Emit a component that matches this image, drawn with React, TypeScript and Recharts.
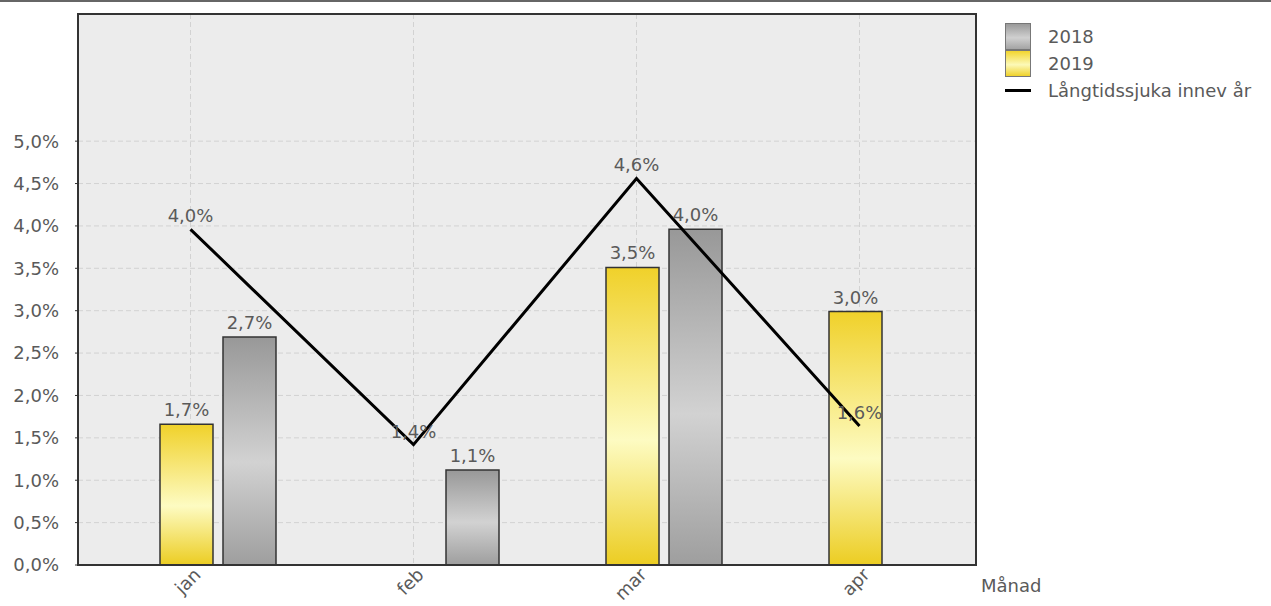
import React from 'react';
import { ComposedChart, Bar, Line, XAxis, YAxis, CartesianGrid, LabelList, ReferenceArea } from 'recharts';

const months = ['jan', 'feb', 'mar', 'apr'];
const values2019 = [1.66, null, 3.51, 2.99];
const values2018 = [2.69, 1.12, 3.96, null];
const longTermSick = [3.96, 1.42, 4.56, 1.64];
const yTicks = [0, 0.5, 1, 1.5, 2, 2.5, 3, 3.5, 4, 4.5, 5];

const data = months.map((m, i) => ({
  month: m,
  y2019: values2019[i],
  y2018: values2018[i],
  sick: longTermSick[i],
}));

const FONT = '"DejaVu Sans", sans-serif';
const TEXT = '#5a5a5a';
const FS = 18;

const pct = (v: any) => (v === null || v === undefined ? '' : Number(v).toFixed(1).replace('.', ',') + '%');

const MonthTick = ({ x, y, payload }: any) => (
  <g transform={`translate(${x},${y})`}>
    <text x={6} y={10} transform="rotate(-45)" textAnchor="end" fill={TEXT} fontSize={FS} fontFamily={FONT}>
      {payload.value}
    </text>
  </g>
);

const LegendBox = () => (
  <div style={{ position: 'absolute', left: 1005, top: 21, fontFamily: FONT, fontSize: FS, color: TEXT }}>
    <div style={{ display: 'flex', alignItems: 'center', height: 27 }}>
      <span style={{ width: 26, height: 27, boxSizing: 'border-box', border: '1px solid #777', background: 'linear-gradient(#9a9a9a, #d0d0d0 55%, #a4a4a4)', marginRight: 17 }} />
      2018
    </div>
    <div style={{ display: 'flex', alignItems: 'center', height: 27 }}>
      <span style={{ width: 26, height: 27, boxSizing: 'border-box', border: '1px solid #777', background: 'linear-gradient(#f2d52e, #fcf9b8 55%, #efd12a)', marginRight: 17 }} />
      2019
    </div>
    <div style={{ display: 'flex', alignItems: 'center', height: 27 }}>
      <span style={{ width: 26, height: 3, background: '#000', marginRight: 17 }} />
      Långtidssjuka innev år
    </div>
  </div>
);

export default function App() {
  return (
    <div style={{ position: 'fixed', left: 0, top: 0, width: 1271, height: 606, background: '#fff', borderTop: '2px solid #666', boxSizing: 'border-box' }}>
      <ComposedChart
        width={1271}
        height={604}
        data={data}
        margin={{ top: 12, right: 295, bottom: 0, left: 0 }}
        barGap={10}
      >
        <defs>
          <linearGradient id="gradYellow" x1="0" y1="0" x2="0" y2="1">
            <stop offset="0%" stopColor="#f0d12a" />
            <stop offset="58%" stopColor="#fdfbc2" />
            <stop offset="100%" stopColor="#eccd22" />
          </linearGradient>
          <linearGradient id="gradGray" x1="0" y1="0" x2="0" y2="1">
            <stop offset="0%" stopColor="#989898" />
            <stop offset="55%" stopColor="#d2d2d2" />
            <stop offset="100%" stopColor="#9e9e9e" />
          </linearGradient>
        </defs>
        <CartesianGrid fill="#ececec" stroke="#d2d2d2" strokeDasharray="5 3" />
        <XAxis
          dataKey="month"
          padding={{ left: 1, right: 5 }}
          axisLine={{ stroke: '#333', strokeWidth: 2 }}
          tickLine={false}
          tick={<MonthTick />}
          height={41}
          label={{ value: 'Månad', position: 'right', offset: 5, fill: TEXT, fontSize: FS, fontFamily: FONT }}
        />
        <XAxis xAxisId="frame" dataKey="month" hide />
        <YAxis
          domain={[0, 6.5]}
          ticks={yTicks}
          width={78}
          tickFormatter={pct}
          tick={{ fill: TEXT, fontSize: FS, fontFamily: FONT }}
          tickSize={3}
          tickMargin={16}
          tickLine={{ stroke: '#333' }}
          axisLine={{ stroke: '#333', strokeWidth: 2 }}
        />
        <ReferenceArea xAxisId="frame" y1={0} y2={6.5} fill="none" stroke="#333" strokeWidth={2} fillOpacity={0} />
        <Bar dataKey="pad" barSize={45} fill="none" legendType="none" isAnimationActive={false} />
        <Bar dataKey="y2019" name="2019" barSize={53} fill="url(#gradYellow)" stroke="#333" strokeWidth={1.5} isAnimationActive={false}>
          <LabelList dataKey="y2019" position="top" offset={8} formatter={pct} fill={TEXT} fontSize={FS} fontFamily={FONT} />
        </Bar>
        <Bar dataKey="y2018" name="2018" barSize={53} fill="url(#gradGray)" stroke="#333" strokeWidth={1.5} isAnimationActive={false}>
          <LabelList dataKey="y2018" position="top" offset={8} formatter={pct} fill={TEXT} fontSize={FS} fontFamily={FONT} />
        </Bar>
        <Line dataKey="sick" name="Långtidssjuka innev år" stroke="#000" strokeWidth={3} dot={false} activeDot={false} type="linear" isAnimationActive={false}>
          <LabelList dataKey="sick" position="top" offset={7} formatter={pct} fill={TEXT} fontSize={FS} fontFamily={FONT} />
        </Line>
      </ComposedChart>
      <LegendBox />
    </div>
  );
}
